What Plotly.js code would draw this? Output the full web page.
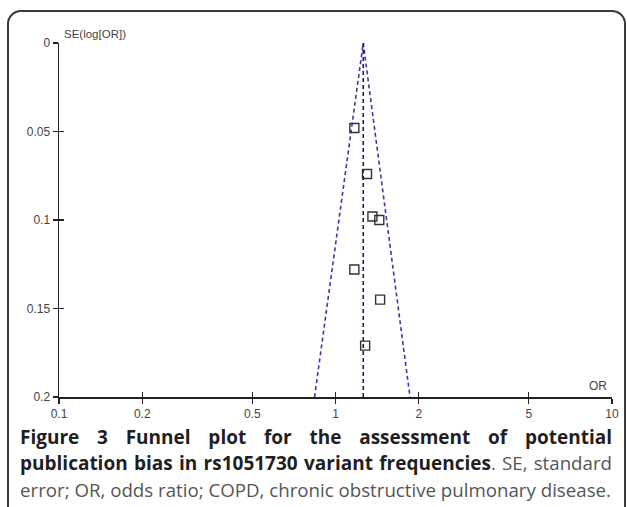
<!DOCTYPE html>
<html>
<head>
<meta charset="utf-8">
<script src="https://cdn.plot.ly/plotly-3.0.1.min.js"></script>
<style>
  html, body { margin: 0; padding: 0; background: #fff; }
  #wrap { position: relative; width: 627px; height: 507px; overflow: hidden; }
  #chart { position: absolute; left: 0; top: 0; width: 627px; height: 507px; }
  #frame { position: absolute; left: 7px; top: 10px; width: 615px; height: 600px;
           border: 2px solid #3a3a3a; border-radius: 14px; pointer-events: none; }
  .cap { position: absolute; left: 20px; width: 592px; font-family: "Open Sans", sans-serif;
         font-size: 18.7px; color: #555; white-space: nowrap; line-height: 22px; }
  .just { text-align: justify; text-align-last: justify; white-space: normal; }
  .b { font-weight: 700; color: #1f1f1f; font-size: 19px; }
</style>
</head>
<body>
<div id="wrap">
  <div id="chart"></div>
  <div id="frame"></div>
  <div class="cap just" style="top:426px;"><span class="b">Figure 3 Funnel plot for the assessment of potential</span></div>
  <div class="cap just" style="top:452px;"><span class="b">publication bias in rs1051730 variant frequencies</span>. SE, standard</div>
  <div class="cap" style="top:479px;">error; OR, odds ratio; COPD, chronic obstructive pulmonary disease.</div>
</div>
<script>
// ---- data ----
const xTickVals = [0.1, 0.2, 0.5, 1, 2, 5, 10];
const xTickText = ["0.1", "0.2", "0.5", "1", "2", "5", "10"];
const yTickVals = [0, 0.05, 0.1, 0.15, 0.2];
const yTickText = ["0", "0.05", "0.1", "0.15", "0.2"];

const studyOR = [1.17, 1.30, 1.36, 1.44, 1.17, 1.45, 1.28];
const studySE = [0.048, 0.074, 0.098, 0.100, 0.128, 0.145, 0.171];

const pooledOR = [1.26, 1.26];
const pooledSE = [0, 0.2];

const funnelOR = [0.84, 1.26, 1.86];
const funnelSE = [0.2, 0, 0.2];

const axisFont = { family: "Liberation Sans, Arial, sans-serif", size: 12, color: "#444" };

const traces = [
  // carrier for the inside-tick twin subplot (drawn first, underneath)
  { x: pooledOR, y: pooledSE, xaxis: "x2", yaxis: "y2", mode: "lines", type: "scatter",
    line: { width: 1, color: "rgba(0,0,0,0)" }, hoverinfo: "skip" },
  { x: funnelOR, y: funnelSE, mode: "lines", type: "scatter",
    line: { color: "#3b35b3", width: 1.6, dash: "4px,3px" }, hoverinfo: "skip" },
  { x: pooledOR, y: pooledSE, mode: "lines", type: "scatter",
    line: { color: "#1c1a5e", width: 1.6, dash: "4px,3px" }, hoverinfo: "skip" },
  { x: studyOR, y: studySE, mode: "markers", type: "scatter",
    marker: { symbol: "square-open", size: 9, color: "#333", line: { width: 1.4, color: "#333" } } }
];

const layout = {
  width: 627, height: 507,
  margin: { l: 59, r: 15, t: 43, b: 110 },
  paper_bgcolor: "rgba(0,0,0,0)", plot_bgcolor: "rgba(0,0,0,0)",
  showlegend: false,
  xaxis: {
    domain: [0, 1], anchor: "y",
    type: "log", range: [-1, 1], tickmode: "array", tickvals: xTickVals, ticktext: xTickText,
    ticks: "outside", ticklen: 5, tickwidth: 1.3, tickcolor: "#222",
    showline: true, linecolor: "#222", linewidth: 1.5, showgrid: false, zeroline: false,
    tickfont: axisFont, ticklabelstandoff: 0
  },
  yaxis: {
    domain: [0, 1], anchor: "x",
    range: [0.2, 0], tickmode: "array", tickvals: yTickVals, ticktext: yTickText,
    ticks: "outside", ticklen: 5, tickwidth: 1.3, tickcolor: "#222",
    showline: true, linecolor: "#222", linewidth: 1.5, showgrid: false, zeroline: false,
    tickfont: axisFont
  },
  xaxis2: {
    domain: [0, 1], anchor: "y2",
    type: "log", range: [-1, 1], tickmode: "array", tickvals: xTickVals,
    ticks: "inside", ticklen: 5, tickwidth: 1.3, tickcolor: "#222",
    showticklabels: false, showline: false, showgrid: false, zeroline: false
  },
  yaxis2: {
    domain: [0, 1], anchor: "x2",
    range: [0.2, 0], tickmode: "array", tickvals: yTickVals,
    ticks: "inside", ticklen: 5, tickwidth: 1.3, tickcolor: "#222",
    showticklabels: false, showline: false, showgrid: false, zeroline: false
  },
  annotations: [
    { text: "SE(log[OR])", xref: "paper", yref: "paper", x: 0.005, y: 1.0, xanchor: "left",
      yanchor: "bottom", yshift: 1, showarrow: false,
      font: { family: "Liberation Sans, Arial, sans-serif", size: 11.5, color: "#444" } },
    { text: "OR", xref: "paper", yref: "paper", x: 0.995, y: 0, xanchor: "right",
      yanchor: "bottom", yshift: 2, showarrow: false,
      font: { family: "Liberation Sans, Arial, sans-serif", size: 12, color: "#444" } }
  ]
};

Plotly.newPlot("chart", traces, layout, { displayModeBar: false, staticPlot: true });
</script>
</body>
</html>
